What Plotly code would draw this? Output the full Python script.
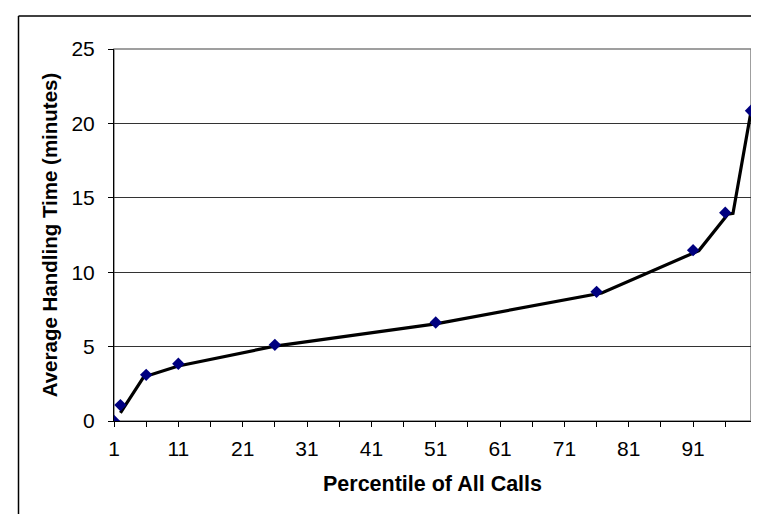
import plotly.graph_objects as go

# Data
percentiles = [1, 2, 6, 11, 26, 51, 76, 91, 96, 100]
handling_time = [0, 1.07, 3.1, 3.85, 5.12, 6.62, 8.68, 11.48, 14.0, 20.85]

trend_x = [2, 5.6, 11, 26, 51, 76.8, 91.9, 96.4, 97.2, 100]
trend_y = [0.55, 2.95, 3.7, 5.03, 6.53, 8.6, 11.45, 13.9, 13.95, 20.8]

x_tickvals = list(range(1, 100, 5))
x_ticktext = [str(v) if (v - 1) % 10 == 0 else "" for v in x_tickvals]
y_tickvals = [0, 5, 10, 15, 20, 25]

FONT = "Liberation Sans, Arial, sans-serif"

fig = go.Figure()
fig.add_trace(go.Scatter(
    x=trend_x, y=trend_y, mode="lines",
    line=dict(color="#000000", width=3.2),
    hoverinfo="skip", showlegend=False,
))
fig.add_trace(go.Scatter(
    x=percentiles, y=handling_time, mode="markers",
    marker=dict(symbol="diamond", size=9.5, color="#000080"),
    showlegend=False,
))

W, H = 759, 514
L, R, T, B = 106, 16, 41, 101
pw = W - L - R
ph = H - T - B
bx = (10.5 - L) / pw
by = 1 + (T - 8) / ph

fig.update_layout(
    template="none",
    width=W, height=H,
    margin=dict(l=L, r=R, t=T, b=B, autoexpand=False),
    paper_bgcolor="white", plot_bgcolor="white",
    font=dict(family=FONT, color="#000000"),
    shapes=[
        dict(type="rect", xref="paper", yref="paper", x0=0, y0=0, x1=1, y1=1,
             line=dict(color="#808080", width=1.5), layer="below"),
        dict(type="line", xref="paper", yref="paper", x0=bx, y0=-1, x1=bx, y1=by,
             line=dict(color="#000000", width=1.5)),
        dict(type="line", xref="paper", yref="paper", x0=bx, y0=by, x1=2, y1=by,
             line=dict(color="#000000", width=1.5)),
    ],
)
fig.update_xaxes(
    range=[1, 100], tickvals=x_tickvals, ticktext=x_ticktext,
    ticks="outside", ticklen=5, tickcolor="#000000",
    showline=True, linecolor="#000000", linewidth=1,
    showgrid=False, zeroline=False, automargin=False,
    tickfont=dict(size=21, family=FONT), ticklabelstandoff=4,
    title=dict(text="<b>Percentile of All Calls</b>", font=dict(size=21.5, family=FONT), standoff=16),
)
fig.update_yaxes(
    range=[0, 25], tickvals=y_tickvals,
    ticks="outside", ticklen=5, tickcolor="#000000",
    showline=True, linecolor="#000000", linewidth=1,
    showgrid=True, gridcolor="#333333", gridwidth=1, zeroline=False, automargin=False,
    tickfont=dict(size=21, family=FONT), ticklabelstandoff=9,
    title=dict(text="<b>Average Handling Time (minutes)</b>", font=dict(size=20.5, family=FONT), standoff=8),
)

fig.write_html("out.html")
